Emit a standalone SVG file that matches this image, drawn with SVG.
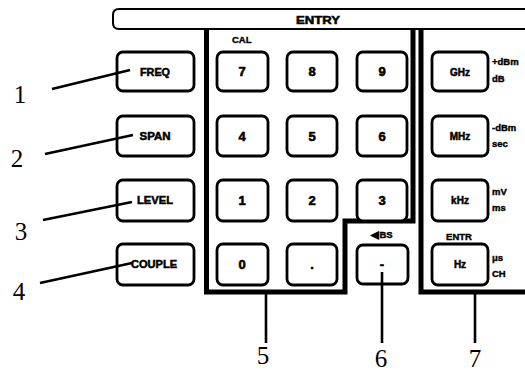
<svg xmlns="http://www.w3.org/2000/svg" width="525" height="374" viewBox="0 0 525 374">
<style>
.key{fill:#fff;stroke:#000;stroke-width:2.8}
.kl{font-family:"Liberation Sans",Arial,sans-serif;font-weight:bold;font-size:10px;text-anchor:middle;fill:#000;stroke:#000;stroke-width:0.5}
.dg{font-family:"Liberation Sans",Arial,sans-serif;font-weight:bold;font-size:13px;text-anchor:middle;fill:#000;stroke:#000;stroke-width:0.6}
.sm{font-family:"Liberation Sans",Arial,sans-serif;font-weight:bold;font-size:9.5px;fill:#000;stroke:#000;stroke-width:0.4}
.num{font-family:"Liberation Serif","Times New Roman",serif;font-size:25px;text-anchor:middle;fill:#000}
.panel{fill:none;stroke:#000;stroke-width:5}
.ln{stroke:#000;stroke-width:2.6;fill:none}
</style>
<rect width="525" height="374" fill="#fff"/>
<g id="entry-bar">
<path d="M530,9 H119 Q113,9 113,15 V23 Q113,29 119,29 H530" fill="none" stroke="#000" stroke-width="2"/>
<text class="kl" x="318" y="24" font-size="11" textLength="44" lengthAdjust="spacingAndGlyphs">ENTRY</text>
</g>
<g id="panels">
<path class="panel" d="M206.5,29 V292 H345 V221 H413 V29"/>
<path class="panel" d="M421,29 V292 H530"/>
</g>
<g id="key-freq"><rect class="key" x="117" y="52" width="77" height="39" rx="6"/><text class="kl" x="155" y="76" textLength="30" lengthAdjust="spacingAndGlyphs">FREQ</text></g>
<g id="key-span"><rect class="key" x="117" y="116" width="77" height="40" rx="6"/><text class="kl" x="155" y="140" textLength="31" lengthAdjust="spacingAndGlyphs">SPAN</text></g>
<g id="key-level"><rect class="key" x="117" y="180" width="77" height="41" rx="6"/><text class="kl" x="155" y="204" textLength="36" lengthAdjust="spacingAndGlyphs">LEVEL</text></g>
<g id="key-couple"><rect class="key" x="117" y="244" width="77" height="41" rx="6"/><text class="kl" x="154" y="268" textLength="46" lengthAdjust="spacingAndGlyphs">COUPLE</text></g>
<g id="label-cal"><text class="sm" x="232" y="43">CAL</text></g>
<g id="key-7"><rect class="key" x="217" y="52" width="51" height="39" rx="6"/><text class="dg" x="242" y="76">7</text></g>
<g id="key-8"><rect class="key" x="287" y="52" width="50" height="39" rx="6"/><text class="dg" x="312" y="76">8</text></g>
<g id="key-9"><rect class="key" x="357" y="52" width="50" height="39" rx="6"/><text class="dg" x="382" y="76">9</text></g>
<g id="key-4"><rect class="key" x="217" y="116" width="51" height="40" rx="6"/><text class="dg" x="242" y="141">4</text></g>
<g id="key-5"><rect class="key" x="287" y="116" width="50" height="40" rx="6"/><text class="dg" x="312" y="141">5</text></g>
<g id="key-6"><rect class="key" x="357" y="116" width="50" height="40" rx="6"/><text class="dg" x="382" y="141">6</text></g>
<g id="key-1"><rect class="key" x="217" y="180" width="51" height="41" rx="6"/><text class="dg" x="242" y="205">1</text></g>
<g id="key-2"><rect class="key" x="287" y="180" width="50" height="41" rx="6"/><text class="dg" x="312" y="205">2</text></g>
<g id="key-3"><rect class="key" x="357" y="180" width="50" height="41" rx="6"/><text class="dg" x="382" y="205">3</text></g>
<g id="key-0"><rect class="key" x="217" y="244" width="51" height="41" rx="6"/><text class="dg" x="242" y="269">0</text></g>
<g id="key-dot"><rect class="key" x="287" y="244" width="50" height="41" rx="6"/><text class="dg" x="312" y="269">.</text></g>
<g id="label-bs"><text class="sm" x="382" y="238" text-anchor="middle">◀BS</text></g>
<g id="key-minus"><rect class="key" x="357" y="245" width="51" height="39" rx="6"/><text class="dg" x="382" y="269">-</text></g>
<g id="key-ghz"><rect class="key" x="432" y="52" width="56" height="39" rx="6"/><text class="kl" x="460" y="76">GHz</text><text class="sm" x="492" y="65">+dBm</text><text class="sm" x="492" y="82">dB</text></g>
<g id="key-mhz"><rect class="key" x="432" y="116" width="56" height="40" rx="6"/><text class="kl" x="460" y="140">MHz</text><text class="sm" x="492" y="131">-dBm</text><text class="sm" x="492" y="147">sec</text></g>
<g id="key-khz"><rect class="key" x="432" y="180" width="56" height="41" rx="6"/><text class="kl" x="460" y="204">kHz</text><text class="sm" x="492" y="195">mV</text><text class="sm" x="492" y="211">ms</text></g>
<g id="label-entr"><text class="sm" x="459" y="240" text-anchor="middle">ENTR</text></g>
<g id="key-hz"><rect class="key" x="432" y="244" width="56" height="41" rx="6"/><text class="kl" x="460" y="268">Hz</text><text class="sm" x="492" y="261">μs</text><text class="sm" x="492" y="277">CH</text></g>
<g id="connectors">
<line class="ln" x1="52" y1="89" x2="130" y2="70"/>
<line class="ln" x1="45" y1="154" x2="133" y2="135"/>
<line class="ln" x1="43" y1="220" x2="132" y2="202"/>
<line class="ln" x1="40" y1="283" x2="132" y2="263"/>
<line class="ln" x1="266" y1="292" x2="266" y2="343"/>
<line class="ln" x1="382" y1="272" x2="382" y2="343"/>
<line class="ln" x1="475" y1="292" x2="475" y2="343"/>
</g>
<g id="callouts">
<text class="num" x="20" y="103">1</text>
<text class="num" x="17" y="167">2</text>
<text class="num" x="21" y="240">3</text>
<text class="num" x="19" y="300">4</text>
<text class="num" x="263" y="364">5</text>
<text class="num" x="381" y="367">6</text>
<text class="num" x="475" y="367">7</text>
</g>
</svg>
